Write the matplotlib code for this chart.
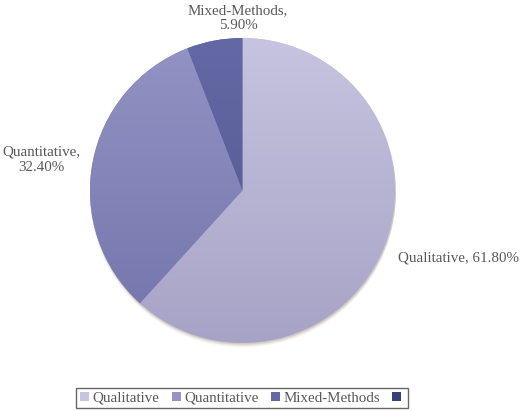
import numpy as np
import matplotlib
matplotlib.use("Agg")
import matplotlib.pyplot as plt
from matplotlib.patches import Patch, Circle

categories = ["Qualitative", "Quantitative", "Mixed-Methods", ""]
shares = [61.8, 32.4, 5.9, 0.0]
labels = ["Qualitative, 61.80%", "Quantitative,\n32.40%", "Mixed-Methods,\n5.90%"]

# top / bottom colours of each slice gradient
top_colors = ["#c7c4e0", "#9394c4", "#6468a4", "#3a3f7a"]
bot_colors = ["#a6a3c6", "#7274ab", "#51568f", "#3a3f7a"]

plt.rcParams["font.family"] = ["Liberation Serif", "DejaVu Serif"]

W, H = 520, 411
fig = plt.figure(figsize=(W / 100, H / 100), dpi=100)
ax = fig.add_axes([0, 0, 1, 1])

# pixel-like coordinates, y measured from the bottom
cx, cy, r = 242.5, H - 190.5, 152.5

# soft shadow
for k, a in zip([4, 3, 2, 1], [0.05, 0.08, 0.12, 0.18]):
    ax.add_patch(Circle((cx + 0.5, cy - k), r + 0.5, color="#8a7a66", alpha=a, lw=0, zorder=1))

vals = [v for v in shares if v > 0]
wedges, _ = ax.pie(vals, startangle=90, counterclock=False, center=(cx, cy), radius=r,
                   colors=top_colors[:len(vals)], wedgeprops=dict(lw=0, zorder=2))

# vertical gradient inside each slice
grad = np.linspace(0, 1, 256)[:, None]
for wd, c0, c1 in zip(wedges, top_colors, bot_colors):
    a = np.array(matplotlib.colors.to_rgb(c0))
    b = np.array(matplotlib.colors.to_rgb(c1))
    img = a[None, None, :] * (1 - grad[:, :, None]) + b[None, None, :] * grad[:, :, None]
    im = ax.imshow(img, extent=(cx - r, cx + r, cy - r, cy + r), origin="upper",
                   aspect="auto", zorder=3)
    im.set_clip_path(wd)

ax.set_xlim(0, W)
ax.set_ylim(0, H)
ax.set_aspect("equal")
ax.axis("off")

txt = dict(color="#595959", fontsize=10.8, ha="center", va="center", linespacing=1.25)
ax.text(459, H - 258, labels[0], **txt)
ax.text(41, H - 160, labels[1], **txt)
ax.text(238, H - 18, labels[2], **txt)

handles = [Patch(facecolor=c, edgecolor="none") for c in top_colors]
leg = fig.legend(handles, categories, loc="lower center", bbox_to_anchor=(0.466, -0.012), ncol=4,
                 frameon=True, fancybox=False, fontsize=10.8, handlelength=0.6, handleheight=0.6,
                 handletextpad=0.2, columnspacing=0.85, borderpad=0.25, labelcolor="#595959")
leg.get_frame().set_edgecolor("#404040")
leg.get_frame().set_linewidth(1.0)

fig.savefig("out.png", dpi=100)
